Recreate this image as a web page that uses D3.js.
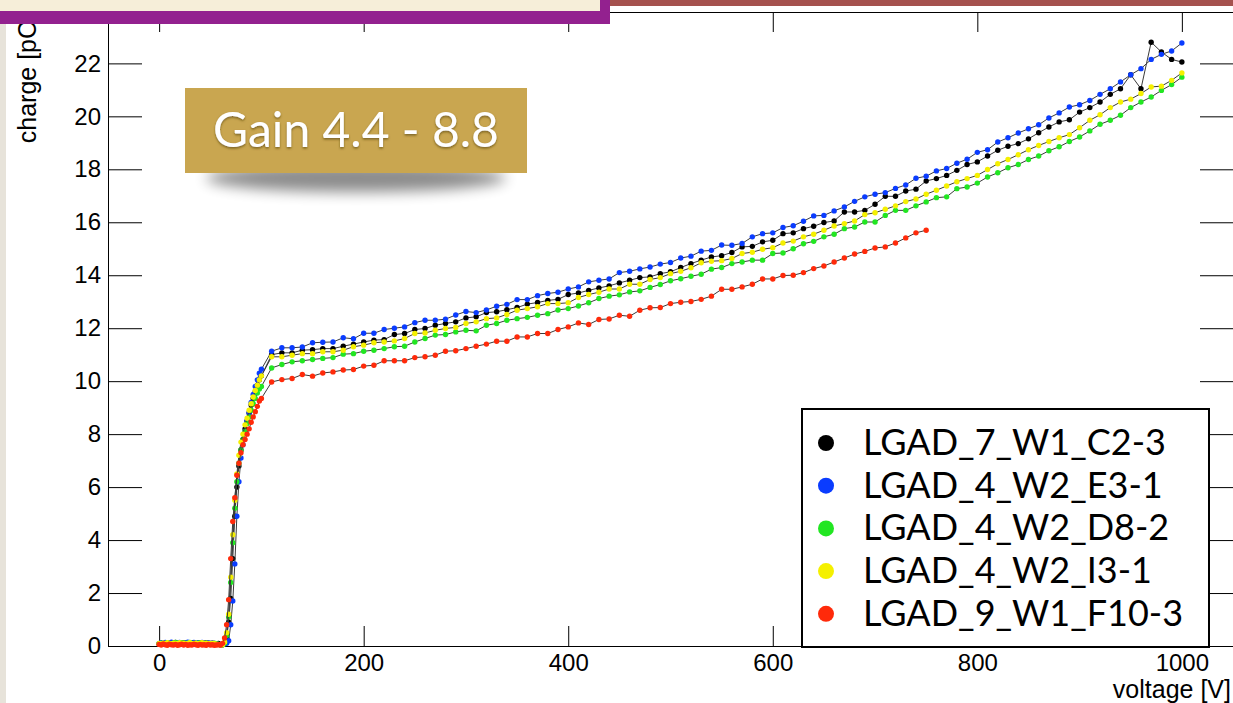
<!DOCTYPE html>
<html>
<head>
<meta charset="utf-8">
<script src="https://cdn.jsdelivr.net/npm/d3@7"></script>
<style>
  html, body { margin: 0; padding: 0; background: #fff; }
  svg { display: block; }
</style>
</head>
<body>
<svg id="chart" width="1233" height="703"></svg>
<script>
"use strict";

// bias voltage steps [V]: 2 V up to 100 V, then 10 V
const voltage = [
  0, 2, 4, 6, 8, 10, 12, 14, 16, 18, 20, 22, 24, 26, 28, 30, 32, 34, 36, 38,
  40, 42, 44, 46, 48, 50, 52, 54, 56, 58, 60, 62, 64, 66, 68, 70, 72, 74, 76, 78,
  80, 82, 84, 86, 88, 90, 92, 94, 96, 98, 100,
  110, 120, 130, 140, 150, 160, 170, 180, 190, 200,
  210, 220, 230, 240, 250, 260, 270, 280, 290, 300,
  310, 320, 330, 340, 350, 360, 370, 380, 390, 400,
  410, 420, 430, 440, 450, 460, 470, 480, 490, 500,
  510, 520, 530, 540, 550, 560, 570, 580, 590, 600,
  610, 620, 630, 640, 650, 660, 670, 680, 690, 700,
  710, 720, 730, 740, 750, 760, 770, 780, 790, 800,
  810, 820, 830, 840, 850, 860, 870, 880, 890, 900,
  910, 920, 930, 940, 950, 960, 970, 980, 990, 1000
];

const seriesNames = ["LGAD_7_W1_C2-3", "LGAD_4_W2_E3-1", "LGAD_4_W2_D8-2", "LGAD_4_W2_I3-1", "LGAD_9_W1_F10-3"];
const seriesColors = ["#000000", "#0a3cff", "#22e622", "#f5f000", "#ff2a0a"];

// charge [pC]
const chargeC23 = [
  0.08, 0.10, 0.07, 0.12, 0.09, 0.11, 0.08, 0.10, 0.13, 0.09, 0.10, 0.07, 0.12, 0.10, 0.08,
  0.11, 0.09, 0.12, 0.10, 0.08, 0.11, 0.10, 0.09, 0.12, 0.08, 0.10, 0.11, 0.09, 0.07, 0.10,
  0.05, 0.05, 0.10, 0.30, 0.90, 1.80, 3.30, 4.90, 6.00, 6.80, 7.40, 7.80, 8.20, 8.50, 8.80,
  9.10, 9.35, 9.60, 9.85, 10.05, 10.20,
  11.00, 11.07, 11.07, 11.17, 11.19, 11.23, 11.23, 11.32, 11.40, 11.48,
  11.55, 11.57, 11.76, 11.80, 11.95, 11.99, 12.11, 12.18, 12.24, 12.39,
  12.43, 12.59, 12.62, 12.70, 12.78, 12.91, 12.97, 13.05, 13.09, 13.27,
  13.33, 13.43, 13.52, 13.60, 13.71, 13.81, 13.91, 13.94, 14.06, 14.13,
  14.29, 14.44, 14.57, 14.69, 14.74, 14.86, 15.07, 15.09, 15.26, 15.32,
  15.57, 15.60, 15.76, 15.85, 15.99, 16.05, 16.39, 16.39, 16.45, 16.68,
  16.98, 16.98, 17.18, 17.25, 17.56, 17.65, 17.77, 17.96, 18.18, 18.28,
  18.50, 18.72, 18.87, 18.97, 19.15, 19.38, 19.60, 19.79, 19.87, 20.16,
  20.33, 20.54, 20.83, 21.04, 21.57, 21.04, 22.80, 22.43, 22.15, 22.05
];
const chargeE31 = [
  0.10, 0.12, 0.09, 0.13, 0.10, 0.11, 0.14, 0.10, 0.12, 0.09, 0.13, 0.11, 0.10, 0.12, 0.14,
  0.10, 0.11, 0.13, 0.09, 0.12, 0.10, 0.13, 0.11, 0.10, 0.12, 0.09, 0.11, 0.10, 0.08, 0.06,
  0.05, 0.05, 0.08, 0.10, 0.20, 0.80, 1.70, 3.10, 4.90, 6.20, 7.10, 7.60, 8.10, 8.50, 8.80,
  9.20, 9.50, 9.80, 10.05, 10.30, 10.45,
  11.13, 11.26, 11.26, 11.29, 11.45, 11.47, 11.48, 11.64, 11.60, 11.81,
  11.81, 11.95, 12.00, 12.05, 12.21, 12.30, 12.30, 12.34, 12.50, 12.63,
  12.59, 12.69, 12.83, 12.90, 13.08, 13.08, 13.23, 13.31, 13.36, 13.48,
  13.56, 13.75, 13.81, 13.86, 14.10, 14.15, 14.24, 14.31, 14.42, 14.48,
  14.65, 14.72, 14.91, 14.94, 15.14, 15.13, 15.20, 15.45, 15.57, 15.60,
  15.80, 15.87, 16.04, 16.24, 16.26, 16.43, 16.58, 16.79, 16.96, 17.06,
  17.12, 17.28, 17.41, 17.66, 17.74, 17.94, 18.03, 18.23, 18.38, 18.64,
  18.74, 19.03, 19.19, 19.37, 19.53, 19.68, 19.94, 20.13, 20.35, 20.44,
  20.60, 20.83, 21.04, 21.30, 21.57, 21.80, 22.15, 22.34, 22.47, 22.77
];
const chargeD82 = [
  0.09, 0.11, 0.10, 0.08, 0.12, 0.10, 0.09, 0.11, 0.13, 0.10, 0.08, 0.12, 0.10, 0.11, 0.09,
  0.13, 0.10, 0.08, 0.11, 0.10, 0.12, 0.09, 0.10, 0.11, 0.08, 0.10, 0.09, 0.11, 0.08, 0.06,
  0.05, 0.05, 0.10, 0.40, 1.10, 2.40, 3.90, 5.20, 6.20, 6.90, 7.40, 7.80, 8.10, 8.40, 8.65,
  8.90, 9.15, 9.35, 9.55, 9.70, 9.80,
  10.50, 10.63, 10.73, 10.77, 10.82, 10.86, 10.89, 11.02, 11.04, 11.13,
  11.17, 11.23, 11.30, 11.32, 11.48, 11.61, 11.74, 11.76, 11.86, 11.92,
  11.90, 12.11, 12.18, 12.30, 12.36, 12.41, 12.49, 12.55, 12.69, 12.74,
  12.84, 12.96, 13.12, 13.21, 13.26, 13.37, 13.41, 13.54, 13.65, 13.79,
  13.87, 13.96, 14.04, 14.23, 14.29, 14.44, 14.50, 14.57, 14.57, 14.82,
  14.84, 15.00, 15.19, 15.28, 15.45, 15.55, 15.76, 15.82, 16.01, 16.01,
  16.26, 16.45, 16.45, 16.62, 16.77, 16.93, 16.96, 17.27, 17.33, 17.48,
  17.71, 17.87, 18.06, 18.18, 18.37, 18.50, 18.70, 18.85, 19.05, 19.22,
  19.45, 19.70, 19.85, 20.04, 20.33, 20.54, 20.73, 20.98, 21.20, 21.48
];
const chargeI31 = [
  0.10, 0.08, 0.11, 0.09, 0.12, 0.10, 0.08, 0.11, 0.10, 0.09, 0.12, 0.10, 0.11, 0.08, 0.10,
  0.12, 0.09, 0.10, 0.11, 0.08, 0.10, 0.12, 0.09, 0.11, 0.10, 0.08, 0.10, 0.09, 0.07, 0.06,
  0.05, 0.05, 0.15, 0.50, 1.20, 2.60, 4.20, 5.50, 6.50, 7.20, 7.70, 8.00, 8.35, 8.60, 8.90,
  9.15, 9.40, 9.65, 9.85, 10.05, 10.20,
  10.92, 10.92, 10.98, 11.04, 11.04, 11.11, 11.11, 11.17, 11.30, 11.36,
  11.45, 11.48, 11.52, 11.61, 11.80, 11.82, 11.92, 11.99, 12.03, 12.18,
  12.24, 12.36, 12.39, 12.52, 12.68, 12.74, 12.81, 12.93, 12.93, 12.96,
  13.16, 13.27, 13.36, 13.48, 13.48, 13.66, 13.66, 13.84, 13.91, 14.06,
  14.15, 14.28, 14.47, 14.53, 14.55, 14.63, 14.82, 14.87, 14.98, 15.04,
  15.22, 15.29, 15.45, 15.55, 15.70, 15.86, 15.95, 16.05, 16.29, 16.36,
  16.49, 16.62, 16.78, 16.88, 17.06, 17.21, 17.37, 17.53, 17.65, 17.77,
  17.99, 18.21, 18.37, 18.55, 18.74, 18.90, 19.05, 19.19, 19.31, 19.57,
  19.85, 20.06, 20.33, 20.54, 20.65, 20.86, 21.11, 21.14, 21.36, 21.64
];
// this one stops at 750 V
const chargeF103 = [
  0.06, 0.04, 0.08, 0.05, 0.03, 0.07, 0.05, 0.04, 0.06, 0.03, 0.05, 0.07, 0.04, 0.06, 0.03,
  0.05, 0.04, 0.07, 0.05, 0.03, 0.06, 0.04, 0.05, 0.03, 0.06, 0.04, 0.05, 0.03, 0.04, 0.05,
  0.04, 0.10, 0.30, 0.80, 1.75, 3.30, 4.70, 5.60, 6.45, 6.90, 7.30, 7.60, 7.80, 8.00, 8.20,
  8.45, 8.65, 8.85, 9.05, 9.25, 9.35,
  9.97, 10.06, 10.10, 10.25, 10.19, 10.31, 10.35, 10.42, 10.44, 10.57,
  10.60, 10.77, 10.77, 10.77, 10.89, 10.92, 10.98, 11.13, 11.15, 11.23,
  11.32, 11.40, 11.51, 11.51, 11.67, 11.67, 11.80, 11.80, 11.95, 12.05,
  12.20, 12.14, 12.33, 12.35, 12.49, 12.45, 12.68, 12.77, 12.78, 12.93,
  12.98, 13.01, 13.09, 13.21, 13.47, 13.47, 13.56, 13.66, 13.86, 13.86,
  13.99, 14.00, 14.10, 14.25, 14.35, 14.50, 14.65, 14.80, 14.90, 15.03,
  15.07, 15.22, 15.41, 15.60, 15.70
];

const xMajor = [0, 200, 400, 600, 800, 1000];
const yMajor = [0, 2, 4, 6, 8, 10, 12, 14, 16, 18, 20, 22];

const width = 1233, height = 703;
const frame = { left: 108, right: 1233, top: 12, bottom: 646 };

const svg = d3.select("#chart");

const x = d3.scaleLinear().domain([-50, 1050]).range([frame.left, frame.right]);
const y = d3.scaleLinear().domain([0, 23.94]).range([frame.bottom, frame.top]);

const xMinor = d3.range(-50, 1051, 50).filter((v) => v % 200 !== 0);
const yMinor = d3.range(0, 23.9, 0.5).filter((v) => v % 2 !== 0);

svg.append("rect").attr("width", width).attr("height", height).attr("fill", "#fff");
// slide edge on the left
svg.append("rect").attr("width", 6).attr("height", height).attr("fill", "#e7e3da");

// axes, ROOT style: ticks pointing inwards on all four sides
const axisFont = "'Liberation Sans', Arial, Helvetica, sans-serif";

function styleAxis(g) {
  g.selectAll("path.domain").attr("stroke", "#000").attr("stroke-width", 1);
  g.selectAll(".tick line").attr("stroke", "#000").attr("stroke-width", 1);
  g.selectAll("text").attr("font-family", axisFont).attr("font-size", 24).attr("fill", "#000");
}

const gx = svg.append("g").attr("transform", `translate(0,${frame.bottom})`);
gx.call(d3.axisBottom(x).tickValues(xMinor).tickSize(-10).tickSizeOuter(0).tickFormat(""));
gx.call(d3.axisBottom(x).tickValues(xMajor).tickSize(-20).tickSizeOuter(0).tickPadding(8).tickFormat(d3.format("d")));
styleAxis(gx);

const gxTop = svg.append("g").attr("transform", `translate(0,${frame.top})`);
gxTop.call(d3.axisTop(x).tickValues(xMinor).tickSize(-10).tickSizeOuter(0).tickFormat(""));
gxTop.call(d3.axisTop(x).tickValues(xMajor).tickSize(-20).tickSizeOuter(0).tickFormat(""));
styleAxis(gxTop);

const gy = svg.append("g").attr("transform", `translate(${frame.left},0)`);
gy.call(d3.axisLeft(y).tickValues(yMinor).tickSize(-17).tickSizeOuter(0).tickFormat(""));
gy.call(d3.axisLeft(y).tickValues(yMajor).tickSize(-34).tickSizeOuter(0).tickPadding(7).tickFormat(d3.format("d")));
styleAxis(gy);

const gyRight = svg.append("g").attr("transform", `translate(${frame.right},0)`);
gyRight.call(d3.axisRight(y).tickValues(yMinor).tickSize(-16).tickSizeOuter(0).tickFormat(""));
gyRight.call(d3.axisRight(y).tickValues(yMajor).tickSize(-33).tickSizeOuter(0).tickFormat(""));
styleAxis(gyRight);

// data
const seriesValues = [chargeC23, chargeE31, chargeD82, chargeI31, chargeF103];
const series = seriesNames.map((name, i) => ({
  name,
  color: seriesColors[i],
  points: seriesValues[i].map((q, j) => [voltage[j], q])
}));

const line = d3.line().x((d) => x(d[0])).y((d) => y(d[1]));

const plot = svg.append("g");
series.forEach((s) => {
  const g = plot.append("g");
  g.append("path")
    .attr("d", line(s.points))
    .attr("fill", "none")
    .attr("stroke", "#3a3a3a")
    .attr("stroke-width", 1);
  g.selectAll("circle")
    .data(s.points)
    .join("circle")
    .attr("cx", (d) => x(d[0]))
    .attr("cy", (d) => y(d[1]))
    .attr("r", 2.7)
    .attr("fill", s.color);
});

// axis titles
svg.append("text")
  .attr("transform", `translate(36,14) rotate(-90)`)
  .attr("text-anchor", "end")
  .attr("font-family", axisFont)
  .attr("font-size", 25)
  .text("charge [pC]");

svg.append("text")
  .attr("x", 1231)
  .attr("y", 698)
  .attr("text-anchor", "end")
  .attr("font-family", axisFont)
  .attr("font-size", 25)
  .text("voltage [V]");

// legend
const legend = svg.append("g");
legend.append("rect")
  .attr("x", 802).attr("y", 409).attr("width", 407).attr("height", 238)
  .attr("fill", "#fff").attr("stroke", "#000").attr("stroke-width", 2);

const rows = legend.selectAll("g.row")
  .data(series)
  .join("g")
  .attr("class", "row")
  .attr("transform", (d, i) => `translate(826,${443 + i * 42.7})`);
rows.append("circle").attr("r", 8).attr("fill", (d) => d.color);
rows.append("text")
  .attr("x", 37)
  .attr("y", 12)
  .attr("font-family", "Lato, 'Open Sans', sans-serif")
  .attr("font-size", 36)
  .attr("fill", "#000")
  .text((d) => d.name);

// "Gain" label box with soft shadow below
const defs = svg.append("defs");
defs.append("filter").attr("id", "blurShadow").attr("x", "-20%").attr("y", "-100%").attr("width", "140%").attr("height", "300%")
  .append("feGaussianBlur").attr("stdDeviation", 7);
const txtShadow = defs.append("filter").attr("id", "txtShadow");
txtShadow.append("feDropShadow")
  .attr("dx", 0).attr("dy", 1.5).attr("stdDeviation", 1.2)
  .attr("flood-color", "#5a4515").attr("flood-opacity", 0.7);

svg.append("ellipse")
  .attr("cx", 356).attr("cy", 178).attr("rx", 150).attr("ry", 14)
  .attr("fill", "#000").attr("opacity", 0.45)
  .attr("filter", "url(#blurShadow)");
svg.append("rect")
  .attr("x", 185).attr("y", 88).attr("width", 342).attr("height", 85)
  .attr("fill", "#c9a650");
svg.append("text")
  .attr("x", 356).attr("y", 147)
  .attr("text-anchor", "middle")
  .attr("font-family", "Lato, 'Open Sans', sans-serif")
  .attr("font-size", 48)
  .attr("fill", "#fff")
  .attr("filter", "url(#txtShadow)")
  .text("Gain 4.4 - 8.8");

// slide decoration at the top
svg.append("rect").attr("x", 610).attr("y", 0).attr("width", 623).attr("height", 6).attr("fill", "#a5524e");
svg.append("rect").attr("x", 0).attr("y", 0).attr("width", 610).attr("height", 24).attr("fill", "#93218f");
svg.append("rect").attr("x", 0).attr("y", 0).attr("width", 600).attr("height", 11).attr("fill", "#f6eed9");
</script>
</body>
</html>
